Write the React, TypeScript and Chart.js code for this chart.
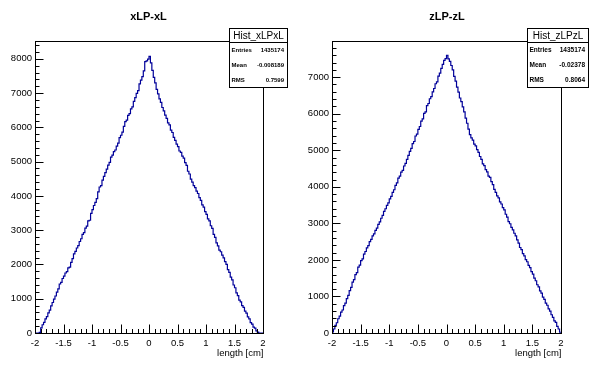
import React, { useEffect, useRef } from "react";
import { Chart, registerables } from "chart.js";

Chart.register(...registerables);

// ---- data ----
const X_MIN = -2;
const X_MAX = 2;
const BIN_WIDTH = 0.025;

const X_TICKS = [-2, -1.5, -1, -0.5, 0, 0.5, 1, 1.5, 2];
const X_TICK_LABELS = ["-2", "-1.5", "-1", "-0.5", "0", "0.5", "1", "1.5", "2"];
const X_AXIS_TITLE = "length [cm]";

const LEFT_TITLE = "xLP-xL";
const LEFT_HIST_NAME = "Hist_xLPxL";
const LEFT_STATS_LABELS = ["Entries", "Mean", "RMS"];
const LEFT_STATS_VALUES = ["1435174", "-0.008189", "0.7599"];
const LEFT_Y_TICKS = [0, 1000, 2000, 3000, 4000, 5000, 6000, 7000, 8000];
const LEFT_Y_MAX = 8520;
const LEFT_VALUES = [
  0, 0, 0, 20, 150, 240, 310, 410, 480, 590, 670, 790, 890, 990, 1080, 1190, 1290, 1430, 1480, 1590,
  1660, 1750, 1790, 1900, 1920, 2060, 2170, 2310, 2380, 2480, 2550, 2670, 2750, 2880, 2930, 3060, 3120, 3270, 3290, 3490,
  3600, 3720, 3810, 3920, 4120, 4260, 4300, 4460, 4570, 4680, 4780, 4900, 4980, 5130, 5190, 5290, 5340, 5450, 5540, 5700,
  5770, 5860, 6030, 6170, 6210, 6350, 6400, 6540, 6600, 6760, 6870, 6990, 7070, 7270, 7380, 7480, 7650, 7920, 7940, 7990,
  8070, 7880, 7660, 7460, 7300, 7110, 6980, 6830, 6730, 6580, 6480, 6360, 6260, 6130, 6070, 5920, 5850, 5710, 5620, 5510,
  5440, 5310, 5270, 5160, 5100, 4970, 4890, 4720, 4640, 4490, 4400, 4300, 4240, 4140, 4070, 3950, 3870, 3740, 3670, 3540,
  3460, 3330, 3270, 3130, 3050, 2880, 2790, 2630, 2540, 2420, 2370, 2270, 2190, 2080, 2000, 1850, 1770, 1630, 1550, 1400,
  1320, 1170, 1090, 960, 910, 800, 750, 640, 580, 470, 410, 300, 260, 170, 140, 60, 25, 0, 0, 0,
];

const RIGHT_TITLE = "zLP-zL";
const RIGHT_HIST_NAME = "Hist_zLPzL";
const RIGHT_STATS_LABELS = ["Entries", "Mean", "RMS"];
const RIGHT_STATS_VALUES = ["1435174", "-0.02378", "0.8064"];
const RIGHT_Y_TICKS = [0, 1000, 2000, 3000, 4000, 5000, 6000, 7000];
const RIGHT_Y_MAX = 7990;
const RIGHT_VALUES = [
  30, 110, 210, 280, 390, 460, 570, 630, 750, 820, 940, 1030, 1160, 1250, 1390, 1460, 1600, 1650, 1800, 1860,
  1980, 2030, 2160, 2230, 2330, 2390, 2500, 2560, 2660, 2710, 2810, 2870, 2970, 3040, 3140, 3220, 3330, 3400, 3490, 3560,
  3670, 3740, 3850, 3920, 4040, 4110, 4240, 4290, 4400, 4450, 4570, 4640, 4750, 4860, 4970, 5050, 5180, 5240, 5390, 5440,
  5570, 5650, 5800, 5860, 6010, 6050, 6220, 6280, 6410, 6470, 6600, 6690, 6820, 6870, 7030, 7110, 7240, 7350, 7460, 7510,
  7600, 7500, 7430, 7320, 7200, 7020, 6890, 6730, 6590, 6430, 6330, 6190, 6050, 5880, 5740, 5580, 5430, 5340, 5280, 5170,
  5120, 5020, 4940, 4830, 4750, 4630, 4580, 4470, 4410, 4290, 4260, 4140, 4060, 3930, 3850, 3750, 3700, 3590, 3530, 3430,
  3370, 3250, 3170, 3050, 2990, 2890, 2820, 2730, 2660, 2550, 2460, 2340, 2280, 2170, 2110, 2010, 1950, 1850, 1790, 1680,
  1610, 1500, 1430, 1320, 1260, 1150, 1090, 980, 920, 820, 760, 660, 600, 500, 430, 330, 290, 180, 110, 20,
];

// ---- style ----
const LINE_COLOR = "#000099";
const FONT = '"Liberation Sans", Arial, Helvetica, sans-serif';
const W = 298;
const H = 374;

type PanelProps = {
  values: number[];
  yMax: number;
  yTicks: number[];
  title: string;
  histName: string;
  statLabels: string[];
  statValues: string[];
  yAxisWidth: number;
  titleX: number;
  box: { x: number; y: number; w: number; h: number; head: number };
  statFont: number;
};

function Panel(p: PanelProps) {
  const ref = useRef<HTMLCanvasElement | null>(null);
  useEffect(() => {
    if (!ref.current) return;
    const points = p.values.map((v, i) => ({ x: X_MIN + i * BIN_WIDTH, y: v }));
    points.push({ x: X_MAX, y: p.values[p.values.length - 1] });

    const decor = {
      id: "rootDecor",
      afterDraw(chart: any) {
        const { ctx, chartArea: a, scales } = chart;
        const xs = scales.x;
        const ys = scales.y;
        ctx.save();
        ctx.strokeStyle = "#000";
        ctx.lineWidth = 1;
        const L = Math.round(a.left) + 0.5;
        const R = Math.round(a.right) + 0.5;
        const T = Math.round(a.top) + 0.5;
        const B = Math.round(a.bottom) + 0.5;
        ctx.strokeRect(L, T, R - L, B - T);
        ctx.beginPath();
        for (let i = -20; i <= 20; i++) {
          const px = Math.round(xs.getPixelForValue(i / 10)) + 0.5;
          const len = i % 5 === 0 ? 9 : 4.5;
          ctx.moveTo(px, B);
          ctx.lineTo(px, B - len);
        }
        for (let v = 0; v <= p.yMax; v += 200) {
          const py = Math.round(ys.getPixelForValue(v)) + 0.5;
          const len = v % 1000 === 0 ? 8 : 4;
          ctx.moveTo(L, py);
          ctx.lineTo(L + len, py);
        }
        ctx.stroke();

        ctx.fillStyle = "#000";
        ctx.font = `bold 11px ${FONT}`;
        ctx.textAlign = "center";
        ctx.textBaseline = "middle";
        ctx.fillText(p.title, p.titleX, 17);
        ctx.font = `9.5px ${FONT}`;
        ctx.textAlign = "right";
        ctx.fillText(X_AXIS_TITLE, R, 353);

        const b = p.box;
        ctx.fillStyle = "#fff";
        ctx.fillRect(b.x, b.y, b.w, b.h);
        ctx.strokeRect(b.x + 0.5, b.y + 0.5, b.w, b.h);
        ctx.beginPath();
        ctx.moveTo(b.x, b.y + b.head + 0.5);
        ctx.lineTo(b.x + b.w, b.y + b.head + 0.5);
        ctx.stroke();
        ctx.fillStyle = "#000";
        ctx.font = `10px ${FONT}`;
        ctx.textAlign = "center";
        ctx.fillText(p.histName, b.x + b.w / 2 + 0.5, b.y + b.head / 2 + 1);
        ctx.font = `bold ${p.statFont}px ${FONT}`;
        const rowH = (b.h - b.head) / p.statLabels.length;
        p.statLabels.forEach((lab, i) => {
          const y = b.y + b.head + rowH * (i + 0.5) + 0.5;
          ctx.textAlign = "left";
          ctx.fillText(lab, b.x + 2.5, y);
          ctx.textAlign = "right";
          ctx.fillText(p.statValues[i], b.x + b.w - 3, y);
        });
        ctx.restore();
      },
    };

    const chart = new Chart(ref.current, {
      type: "line",
      data: {
        datasets: [
          {
            data: points,
            stepped: true,
            borderColor: LINE_COLOR,
            borderWidth: 1.2,
            pointRadius: 0,
            fill: false,
          },
        ],
      },
      options: {
        responsive: false,
        animation: false,
        devicePixelRatio: 1,
        layout: { padding: { left: 0, right: W - 263, top: 41, bottom: 0 } },
        plugins: { legend: { display: false }, tooltip: { enabled: false }, title: { display: false } },
        scales: {
          x: {
            type: "linear",
            min: X_MIN,
            max: X_MAX,
            afterBuildTicks: (s: any) => {
              s.ticks = X_TICKS.map((v) => ({ value: v }));
            },
            afterFit: (s: any) => {
              s.height = H - 333;
            },
            grid: { display: false, drawTicks: false },
            border: { display: false },
            ticks: {
              padding: 5,
              color: "#000",
              font: { family: FONT, size: 9.5 },
              maxRotation: 0,
              autoSkip: false,
              callback: (v: any) => {
                const idx = X_TICKS.findIndex((t) => Math.abs(t - Number(v)) < 1e-9);
                return idx >= 0 ? X_TICK_LABELS[idx] : "";
              },
            },
          },
          y: {
            type: "linear",
            min: 0,
            max: p.yMax,
            afterBuildTicks: (s: any) => {
              s.ticks = p.yTicks.map((v) => ({ value: v }));
            },
            afterFit: (s: any) => {
              s.width = p.yAxisWidth;
            },
            grid: { display: false, drawTicks: false },
            border: { display: false },
            ticks: {
              padding: 3,
              color: "#000",
              font: { family: FONT, size: 9.5 },
              autoSkip: false,
              callback: (v: any) => String(v),
            },
          },
        },
      },
      plugins: [decor],
    } as any);
    return () => chart.destroy();
  }, []);
  return <canvas ref={ref} width={W} height={H} style={{ width: W, height: H, display: "block" }} />;
}

export default function App() {
  return (
    <div style={{ position: "fixed", left: 0, top: 0, width: 596, height: 374, background: "#fff", display: "flex" }}>
      <Panel
        values={LEFT_VALUES}
        yMax={LEFT_Y_MAX}
        yTicks={LEFT_Y_TICKS}
        title={LEFT_TITLE}
        histName={LEFT_HIST_NAME}
        statLabels={LEFT_STATS_LABELS}
        statValues={LEFT_STATS_VALUES}
        yAxisWidth={35}
        titleX={148.5}
        box={{ x: 229, y: 28, w: 58, h: 59, head: 14 }}
        statFont={6}
      />
      <Panel
        values={RIGHT_VALUES}
        yMax={RIGHT_Y_MAX}
        yTicks={RIGHT_Y_TICKS}
        title={RIGHT_TITLE}
        histName={RIGHT_HIST_NAME}
        statLabels={RIGHT_STATS_LABELS}
        statValues={RIGHT_STATS_VALUES}
        yAxisWidth={34}
        titleX={149}
        box={{ x: 229, y: 28, w: 61, h: 59, head: 14 }}
        statFont={6.5}
      />
    </div>
  );
}
